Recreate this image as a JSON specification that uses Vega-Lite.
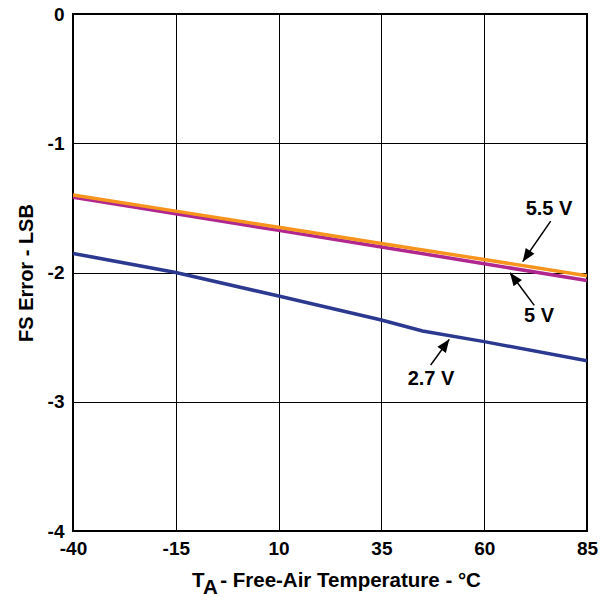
{
  "$schema": "https://vega.github.io/schema/vega-lite/v6.json",
  "width": 514,
  "height": 517,
  "autosize": {"type": "none"},
  "padding": {"left": 73, "top": 14, "right": 26, "bottom": 66},
  "background": "white",
  "config": {
    "view": {"stroke": "#000", "strokeWidth": 2},
    "font": "Liberation Sans",
    "text": {"font": "Liberation Sans", "fontWeight": "bold", "fontSize": 20, "color": "#000"},
    "axis": {
      "domain": false, "ticks": false, "tickSize": 0,
      "grid": true, "gridColor": "#000", "gridWidth": 1, "gridOpacity": 1,
      "labelFont": "Liberation Sans", "labelFontWeight": "bold", "labelFontSize": 19,
      "labelColor": "#000", "labelFlush": false,
      "titleFont": "Liberation Sans", "titleFontWeight": "bold", "titleFontSize": 20,
      "titleColor": "#000"
    },
    "axisX": {"labelPadding": 8},
    "axisY": {"labelPadding": 9, "titlePadding": 11}
  },
  "datasets": {
    "curves": [
      {"supply": "2.7 V", "temp": -40, "fse": -1.852},
      {"supply": "2.7 V", "temp": -15, "fse": -2.0},
      {"supply": "2.7 V", "temp": 10, "fse": -2.182},
      {"supply": "2.7 V", "temp": 35, "fse": -2.368},
      {"supply": "2.7 V", "temp": 45, "fse": -2.453},
      {"supply": "2.7 V", "temp": 60, "fse": -2.535},
      {"supply": "2.7 V", "temp": 85, "fse": -2.683},
      {"supply": "5 V", "temp": -40, "fse": -1.418},
      {"supply": "5 V", "temp": -15, "fse": -1.546},
      {"supply": "5 V", "temp": 10, "fse": -1.674},
      {"supply": "5 V", "temp": 35, "fse": -1.802},
      {"supply": "5 V", "temp": 60, "fse": -1.932},
      {"supply": "5 V", "temp": 85, "fse": -2.063},
      {"supply": "5.5 V", "temp": -40, "fse": -1.4},
      {"supply": "5.5 V", "temp": -15, "fse": -1.525},
      {"supply": "5.5 V", "temp": 10, "fse": -1.65},
      {"supply": "5.5 V", "temp": 35, "fse": -1.775},
      {"supply": "5.5 V", "temp": 60, "fse": -1.9},
      {"supply": "5.5 V", "temp": 85, "fse": -2.025}
    ],
    "arrows": [
      {"label": "5.5 V", "tx": 75.76, "ty": -1.506, "x1": 76.17, "y1": -1.602, "x2": 69.36, "y2": -1.916, "dir": 214.5},
      {"label": "5 V", "tx": 73.33, "ty": -2.337, "x1": 72.18, "y1": -2.254, "x2": 66.27, "y2": -2.002, "dir": 323.3},
      {"label": "2.7 V", "tx": 47.06, "ty": -2.824, "x1": 46.99, "y1": -2.716, "x2": 51.51, "y2": -2.517, "dir": 35.9}
    ]
  },
  "encoding": {
    "x": {
      "type": "quantitative",
      "scale": {"domain": [-40, 85], "nice": false, "zero": false},
      "axis": {"values": [-40, -15, 10, 35, 60, 85], "title": null, "labelExpr": "'' + datum.value"}
    },
    "y": {
      "type": "quantitative",
      "scale": {"domain": [-4, 0], "nice": false, "zero": false},
      "axis": {"values": [0, -1, -2, -3, -4], "title": "FS Error - LSB", "labelExpr": "'' + datum.value"}
    }
  },
  "layer": [
    {
      "data": {"name": "curves"},
      "mark": {"type": "line", "strokeWidth": 3.5, "clip": true},
      "encoding": {
        "x": {"field": "temp"},
        "y": {"field": "fse"},
        "color": {
          "field": "supply", "type": "nominal",
          "scale": {"domain": ["2.7 V", "5 V", "5.5 V"], "range": ["#2B3990", "#B0288F", "#F7941E"]},
          "legend": null
        }
      }
    },
    {
      "data": {"name": "arrows"},
      "mark": {"type": "rule", "strokeWidth": 1.5, "color": "#000"},
      "encoding": {
        "x": {"field": "x1"},
        "y": {"field": "y1"},
        "x2": {"field": "x2"},
        "y2": {"field": "y2"}
      }
    },
    {
      "data": {"name": "arrows"},
      "mark": {"type": "point", "shape": "M0,0L-0.8,2L0.8,2Z", "filled": true, "size": 169, "color": "#000", "opacity": 1, "strokeWidth": 0},
      "encoding": {
        "x": {"field": "x2"},
        "y": {"field": "y2"},
        "angle": {"field": "dir", "type": "quantitative", "scale": null}
      }
    },
    {
      "data": {"name": "arrows"},
      "mark": {"type": "text", "align": "center", "baseline": "middle"},
      "encoding": {
        "x": {"field": "tx"},
        "y": {"field": "ty"},
        "text": {"field": "label"}
      }
    },
    {
      "data": {"values": [{"t": "T"}]},
      "mark": {"type": "text", "align": "left", "baseline": "alphabetic", "fontSize": 20.5},
      "encoding": {
        "x": {"datum": -11.06},
        "y": {"datum": -4.433},
        "text": {"field": "t"}
      }
    },
    {
      "data": {"values": [{"t": "A"}]},
      "mark": {"type": "text", "align": "left", "baseline": "alphabetic", "fontSize": 20.5},
      "encoding": {
        "x": {"datum": -8.39},
        "y": {"datum": -4.488},
        "text": {"field": "t"}
      }
    },
    {
      "data": {"values": [{"t": " - Free-Air Temperature - °C"}]},
      "mark": {"type": "text", "align": "left", "baseline": "alphabetic", "fontSize": 20.5},
      "encoding": {
        "x": {"datum": -4.2},
        "y": {"datum": -4.433},
        "text": {"field": "t"}
      }
    }
  ]
}
